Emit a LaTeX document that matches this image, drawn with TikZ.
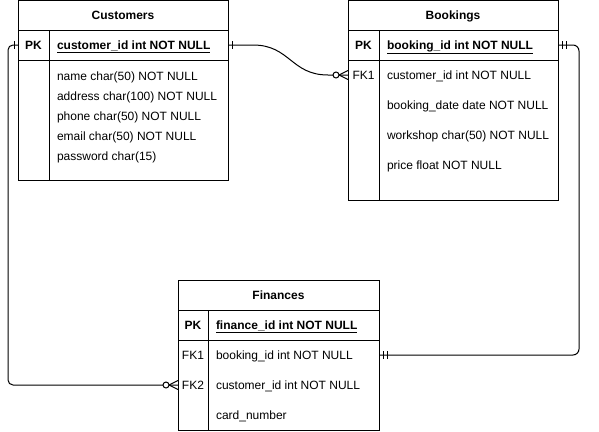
\documentclass[tikz,border=0pt]{standalone}
\usepackage{fontspec}
\setmainfont{Liberation Sans}
\usetikzlibrary{calc}
\begin{document}
\begin{tikzpicture}[x=1pt,y=-1pt,
  font=\fontsize{12pt}{14pt}\selectfont,
  every node/.style={inner sep=0pt, outer sep=0pt},
  box/.style={draw, line width=1pt, anchor=north west, minimum width=210pt},
  rowslot/.style={anchor=north west, minimum width=210pt, minimum height=30pt},
  txt/.style={text height=8.6pt, text depth=0pt},
  title/.style={txt, font=\fontsize{12pt}{14pt}\selectfont\bfseries},
  keyb/.style={txt, font=\fontsize{12pt}{14pt}\selectfont\bfseries},
  keyr/.style={txt},
  fld/.style={txt, anchor=west},
  pkfld/.style={fld, font=\fontsize{12pt}{14pt}\selectfont\bfseries},
  divider/.style={line width=1pt},
  conn/.style={line width=1pt},
  ermark/.style={line width=1pt},
]
\useasboundingbox (0,0) rectangle (599,431);

% ---------- Customers ----------
\node[box, minimum height=29.5pt] (custhead) at (18,0.5) {};
\node[box, minimum height=30pt] (custpk) at (18,30) {};
\node[box, minimum height=120pt] (custbody) at (18,60) {};
\draw[divider] ([xshift=31pt]custpk.north west) -- ([xshift=31pt]custbody.south west);
\node[title] (custtitle) at (custhead.center) {Customers};
\node[keyb] (custpkkey) at (33.5,45) {PK};
\node[pkfld] (custpkfld) at (57,45) {\underline{customer\_id int NOT NULL}};
\node[fld] (cf1) at (57,76) {name char(50) NOT NULL};
\node[fld] (cf2) at (57,96) {address char(100) NOT NULL};
\node[fld] (cf3) at (57,116) {phone char(50) NOT NULL};
\node[fld] (cf4) at (57,136) {email char(50) NOT NULL};
\node[fld] (cf5) at (57,156) {password char(15)};

% ---------- Bookings ----------
\node[box, minimum height=29.5pt] (bookhead) at (348,0.5) {};
\node[box, minimum height=30pt] (bookpk) at (348,30) {};
\node[box, minimum height=140pt] (bookbody) at (348,60) {};
\draw[divider] ([xshift=31pt]bookpk.north west) -- ([xshift=31pt]bookbody.south west);
\node[rowslot] (brow1) at (348,60) {};
\node[title] (booktitle) at (bookhead.center) {Bookings};
\node[keyb] (bookpkkey) at (363.5,45) {PK};
\node[pkfld] (bookpkfld) at (387,45) {\underline{booking\_id int NOT NULL}};
\node[keyr] (bookfk1) at (363.5,75) {FK1};
\node[fld] (bf1) at (387,75) {customer\_id int NOT NULL};
\node[fld] (bf2) at (387,105) {booking\_date date NOT NULL};
\node[fld] (bf3) at (387,135) {workshop char(50) NOT NULL};
\node[fld] (bf4) at (387,165) {price float NOT NULL};

% ---------- Finances ----------
\node[box, minimum width=201pt, minimum height=29.5pt] (finhead) at (178,280.5) {};
\node[box, minimum width=201pt, minimum height=30pt] (finpk) at (178,310) {};
\node[box, minimum width=201pt, minimum height=90pt] (finbody) at (178,340) {};
\draw[divider] ([xshift=30pt]finpk.north west) -- ([xshift=30pt]finbody.south west);
\node[rowslot, minimum width=201pt] (frow1) at (178,340) {};
\node[rowslot, minimum width=201pt] (frow2) at (178,370) {};
\node[title] (fintitle) at (finhead.center) {Finances};
\node[keyb] (finpkkey) at (193,325) {PK};
\node[pkfld] (finpkfld) at (216,325) {\underline{finance\_id int NOT NULL}};
\node[keyr] (finfk1) at (193,355) {FK1};
\node[fld] (ff1) at (216,355) {booking\_id int NOT NULL};
\node[keyr] (finfk2) at (193,385) {FK2};
\node[fld] (ff2) at (216,385) {customer\_id int NOT NULL};
\node[fld] (ff3) at (216,415) {card\_number};

% ---------- Connector: Customers -> Bookings ----------
\draw[conn] (custpk.east) -- ($(custpk.east)+(25,0)$)
  .. controls ($(custpk.east)+(62,0)$) and ($(brow1.west)+(-57,0)$) ..
  ($(brow1.west)+(-20,0)$) -- (brow1.west);
\begin{scope}[shift={(custpk.east)}]
  \draw[ermark] (4,-4) -- (4,4);
\end{scope}
\begin{scope}[shift={(brow1.west)}]
  \draw[ermark, fill=white] (-12,0) circle[radius=3pt];
  \draw[ermark] (-9,0) -- (0,-4.5) (-9,0) -- (0,4.5);
\end{scope}

% ---------- Connector: Customers -> Finances ----------
\draw[conn, rounded corners=5pt] (custpk.west) -- ++(-10,0) |- (frow2.west);
\begin{scope}[shift={(custpk.west)}]
  \draw[ermark] (-4,-4) -- (-4,4);
\end{scope}
\begin{scope}[shift={(frow2.west)}]
  \draw[ermark, fill=white] (-12,0) circle[radius=3pt];
  \draw[ermark] (-9,0) -- (0,-4.5) (-9,0) -- (0,4.5);
\end{scope}

% ---------- Connector: Bookings -> Finances ----------
\draw[conn, rounded corners=6pt] (bookpk.east) -- ++(21,0) |- (frow1.east);
\begin{scope}[shift={(bookpk.east)}]
  \draw[ermark] (4,-4) -- (4,4) (8,-4) -- (8,4);
\end{scope}
\begin{scope}[shift={(frow1.east)}]
  \draw[ermark] (4,-4) -- (4,4) (8,-4) -- (8,4);
\end{scope}
\end{tikzpicture}
\end{document}
